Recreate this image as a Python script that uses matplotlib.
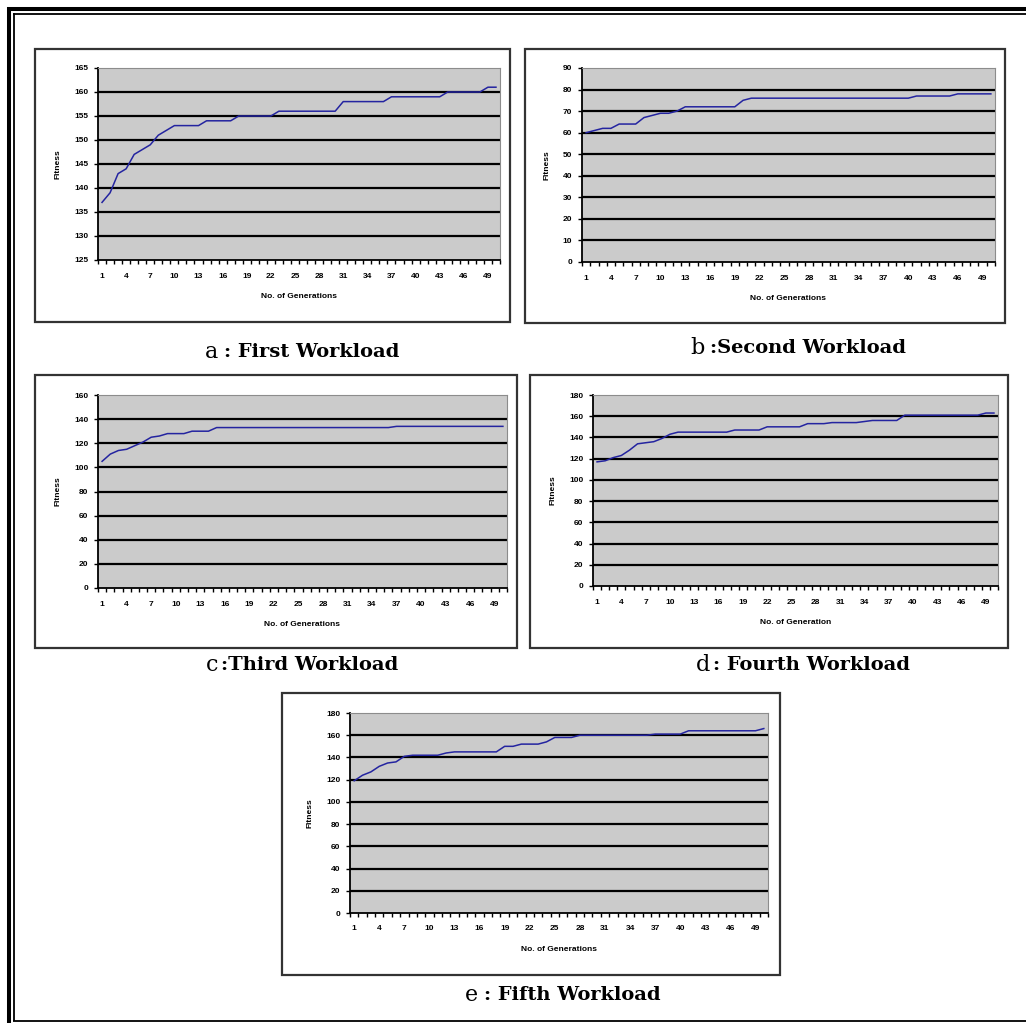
import matplotlib
matplotlib.use("Agg")
import matplotlib.pyplot as plt
from matplotlib.lines import Line2D
from matplotlib.patches import Rectangle
import numpy as np

W, H = 1026, 1023

# Dados (50 gerações por carga)
gens = np.arange(1, 51)
gen_labels = [str(g) for g in range(1, 50, 3)]

fit_a = [137, 139, 143, 144, 147, 148, 149, 151, 152, 153,
         153, 153, 153, 154, 154, 154, 154, 155, 155, 155,
         155, 155, 156, 156, 156, 156, 156, 156, 156, 156,
         158, 158, 158, 158, 158, 158, 159, 159, 159, 159,
         159, 159, 159, 160, 160, 160, 160, 160, 161, 161]
fit_b = [60, 61, 62, 62, 64, 64, 64, 67, 68, 69,
         69, 70, 72, 72, 72, 72, 72, 72, 72, 75,
         76, 76, 76, 76, 76, 76, 76, 76, 76, 76,
         76, 76, 76, 76, 76, 76, 76, 76, 76, 76,
         77, 77, 77, 77, 77, 78, 78, 78, 78, 78]
fit_c = [105, 111, 114, 115, 118, 121, 125, 126, 128, 128,
         128, 130, 130, 130, 133, 133, 133, 133, 133, 133,
         133, 133, 133, 133, 133, 133, 133, 133, 133, 133,
         133, 133, 133, 133, 133, 133, 134, 134, 134, 134,
         134, 134, 134, 134, 134, 134, 134, 134, 134, 134]
fit_d = [117, 118, 121, 123, 128, 134, 135, 136, 139, 143,
         145, 145, 145, 145, 145, 145, 145, 147, 147, 147,
         147, 150, 150, 150, 150, 150, 153, 153, 153, 154,
         154, 154, 154, 155, 156, 156, 156, 156, 161, 161,
         161, 161, 161, 161, 161, 161, 161, 161, 163, 163]
fit_e = [119, 124, 127, 132, 135, 136, 141, 142, 142, 142,
         142, 144, 145, 145, 145, 145, 145, 145, 150, 150,
         152, 152, 152, 154, 158, 158, 158, 160, 160, 160,
         160, 160, 160, 160, 160, 160, 161, 161, 161, 161,
         164, 164, 164, 164, 164, 164, 164, 164, 164, 166]

yticks_a = list(range(125, 166, 5))
yticks_b = list(range(0, 91, 10))
yticks_c = list(range(0, 161, 20))
yticks_de = list(range(0, 181, 20))

xlab_main = "No. of Generations"
xlab_d = "No. of Generation"
ylab = "Fitness"


def frac(x0, y0, x1, y1):
    return [x0 / W, 1 - y1 / H, (x1 - x0) / W, (y1 - y0) / H]


fig = plt.figure(figsize=(W / 100, H / 100), dpi=100)
fig.patch.set_facecolor("white")


def painel(box, area, y, yticks, xlabel, cap_letter, cap_text, cap_pos):
    # caixa do painel
    bx0, by0, bx1, by1 = box
    fig.add_artist(Rectangle((bx0 / W, 1 - by1 / H), (bx1 - bx0) / W, (by1 - by0) / H,
                             transform=fig.transFigure, fill=False,
                             edgecolor="#333333", linewidth=1.6))
    ax = fig.add_axes(frac(*area))
    ax.set_facecolor("#CBCBCB")
    for yv in yticks[1:-1]:
        ax.axhline(yv, color="black", linewidth=1.6, zorder=1)
    ax.plot(gens, y, color="#2424A0", linewidth=1.1, zorder=3)
    ax.set_xlim(0.5, 50.5)
    ax.set_ylim(yticks[0], yticks[-1])
    ax.set_yticks(yticks)
    ax.set_yticklabels([str(v) for v in yticks], fontsize=6, fontweight="bold",
                       family="Liberation Sans")
    ax.set_xticks(list(range(1, 50, 3)))
    ax.set_xticklabels(gen_labels, fontsize=6, fontweight="bold", family="Liberation Sans")
    ax.set_xticks(np.arange(0.5, 51, 1), minor=True)
    ax.tick_params(axis="x", which="major", length=0, pad=9)
    ax.tick_params(axis="x", which="minor", length=3, width=1, direction="out")
    ax.tick_params(axis="y", length=3, width=1, direction="out", pad=4)
    for s in ["left", "bottom"]:
        ax.spines[s].set_color("black")
        ax.spines[s].set_linewidth(1.3)
    for s in ["top", "right"]:
        ax.spines[s].set_color("#8C8C8C")
        ax.spines[s].set_linewidth(0.8)
    ax.set_xlabel(xlabel, fontsize=6, fontweight="bold", family="Liberation Sans", labelpad=10)
    ax.set_ylabel(ylab, fontsize=6, fontweight="bold", family="Liberation Sans", labelpad=9)
    # legenda embaixo
    lx, tx, cy = cap_pos
    fig.text(lx / W, 1 - cy / H, cap_letter, fontsize=16, family="DejaVu Serif",
             ha="left", va="center")
    fig.text(tx / W, 1 - cy / H, cap_text, fontsize=14, fontweight="bold",
             family="DejaVu Serif", ha="left", va="center")
    return ax


painel((35, 49, 510, 322), (98, 68, 500, 260), fit_a, yticks_a, xlab_main,
       "a", ": First Workload", (205, 224, 352))
painel((525, 49, 1005, 323), (582, 68, 995, 262), fit_b, yticks_b, xlab_main,
       "b", ":Second Workload", (690, 710, 348))
painel((35, 375, 517, 648), (98, 395, 507, 588), fit_c, yticks_c, xlab_main,
       "c", ":Third Workload", (206, 221, 665))
painel((530, 375, 1008, 648), (593, 395, 998, 586), fit_d, yticks_de, xlab_d,
       "d", ": Fourth Workload", (696, 713, 665))
painel((282, 693, 780, 975), (350, 713, 768, 913), fit_e, yticks_de, xlab_main,
       "e", ": Fifth Workload", (465, 484, 995))

# moldura dupla
def linha(xs, ys, lw):
    fig.add_artist(Line2D([x / W for x in xs], [1 - y / H for y in ys],
                          transform=fig.transFigure, color="black", linewidth=lw,
                          solid_capstyle="butt"))

linha([9, 9], [7, H], 2.9)
linha([7, W], [9, 9], 2.9)
linha([13.5, 13.5], [12.5, 1021], 1.3)
linha([12.5, W], [13.5, 13.5], 1.3)
linha([12.5, W], [1021, 1021], 1.3)

fig.savefig("out.png", dpi=100)
